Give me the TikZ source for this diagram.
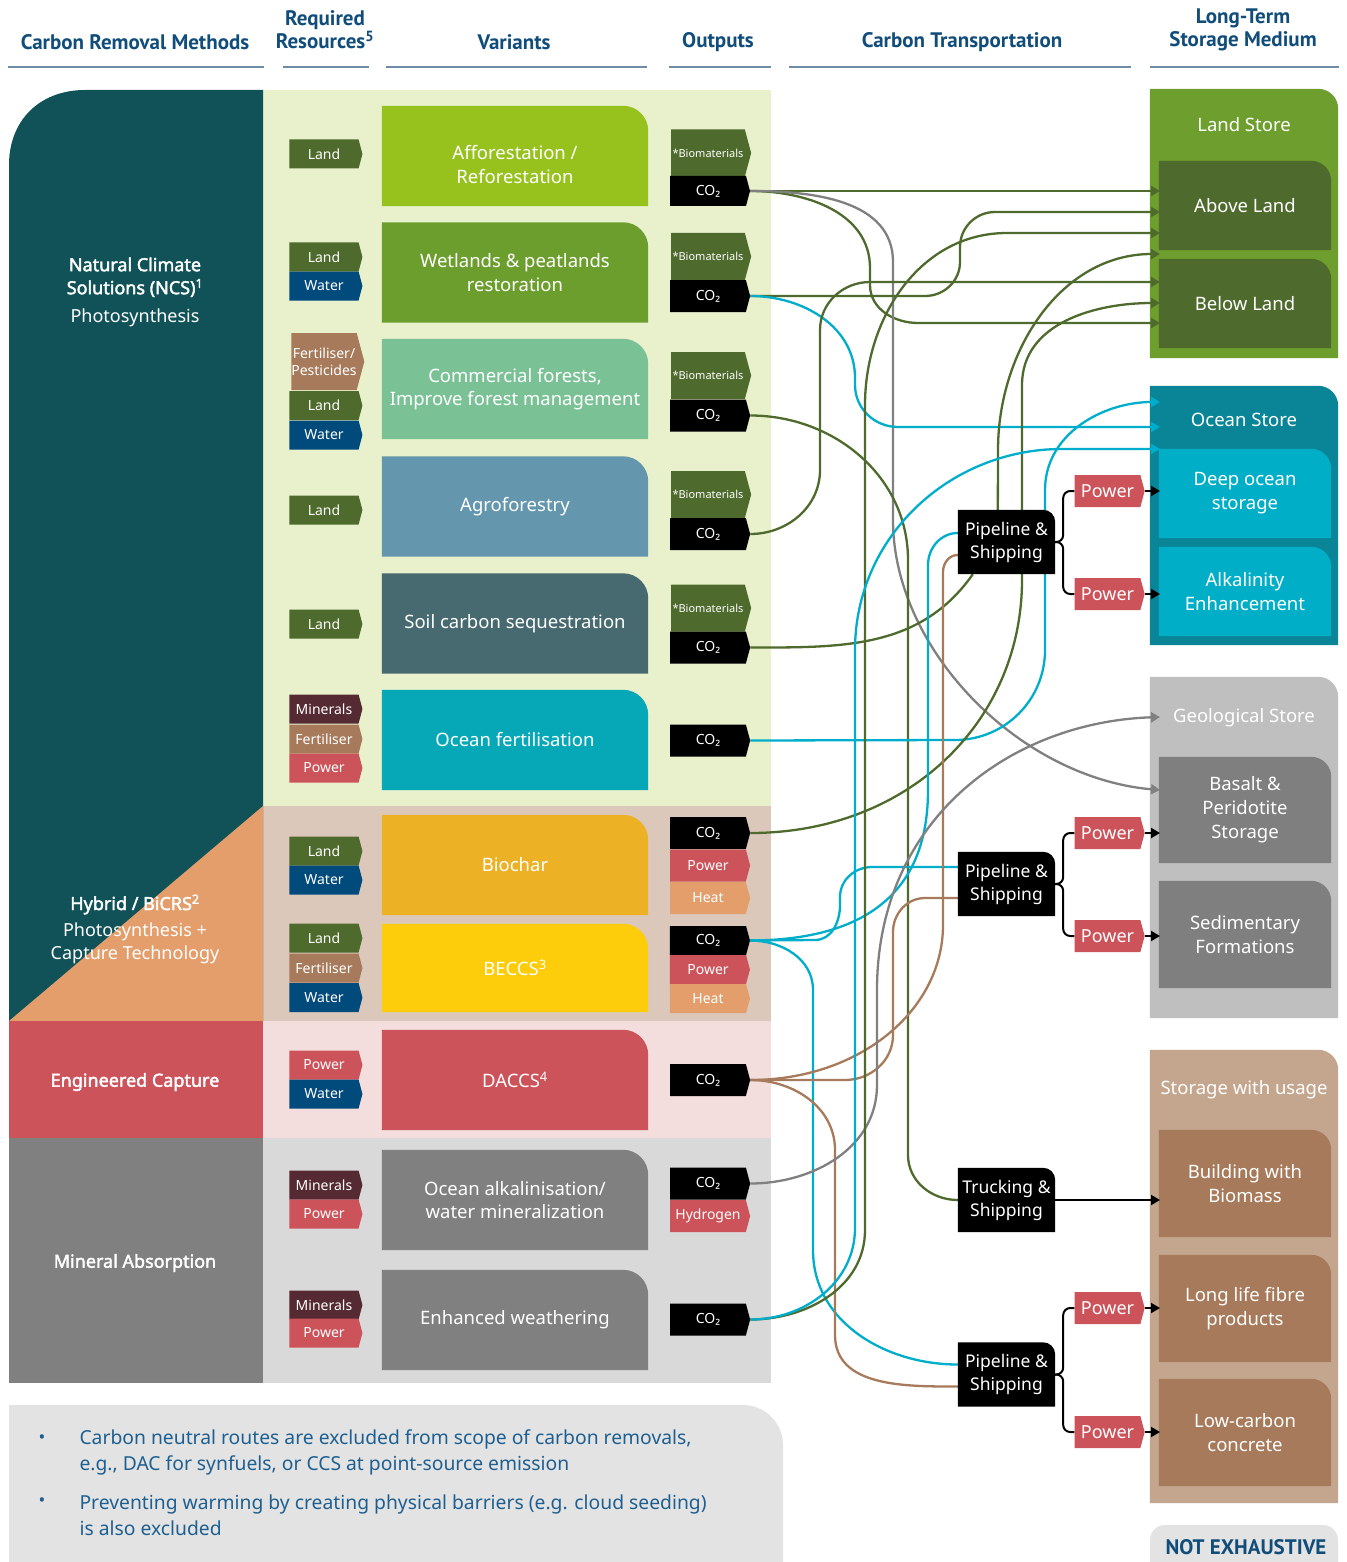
\documentclass[tikz,border=0pt]{standalone}
\usepackage{fontspec}
\setmainfont{Noto Sans}[BoldFont={Noto Sans},BoldFeatures={FakeBold=2.2}]
\newfontfamily\headfont{PT Sans}
\usetikzlibrary{arrows.meta,shapes.symbols}

\definecolor{headblue}{RGB}{17,77,122}
\definecolor{ruleblue}{RGB}{110,140,165}
\definecolor{ncsteal}{RGB}{16,82,87}
\definecolor{hybridorange}{RGB}{227,158,107}
\definecolor{engred}{RGB}{205,83,90}
\definecolor{mingray}{RGB}{128,128,128}
\definecolor{ncsband}{RGB}{232,240,204}
\definecolor{hybband}{RGB}{220,200,186}
\definecolor{engband}{RGB}{244,221,221}
\definecolor{minband}{RGB}{217,217,217}
\definecolor{affgreen}{RGB}{151,194,30}
\definecolor{wetgreen}{RGB}{108,158,46}
\definecolor{comgreen}{RGB}{122,193,149}
\definecolor{agroblue}{RGB}{100,151,174}
\definecolor{soilslate}{RGB}{70,106,112}
\definecolor{oceancyan}{RGB}{6,168,183}
\definecolor{biocharamber}{RGB}{237,177,37}
\definecolor{beccsyellow}{RGB}{253,204,10}
\definecolor{landtag}{RGB}{78,107,45}
\definecolor{watertag}{RGB}{0,74,124}
\definecolor{ferttag}{RGB}{166,122,91}
\definecolor{mintag}{RGB}{85,42,51}
\definecolor{heattag}{RGB}{227,158,107}
\definecolor{landstore}{RGB}{110,158,46}
\definecolor{oceanstore}{RGB}{10,133,151}
\definecolor{oceaninner}{RGB}{0,174,199}
\definecolor{geostore}{RGB}{191,191,191}
\definecolor{geoinner}{RGB}{127,127,127}
\definecolor{usestore}{RGB}{196,166,142}
\definecolor{useinner}{RGB}{166,122,90}
\definecolor{footgray}{RGB}{227,227,227}
\definecolor{foottext}{RGB}{30,95,145}
\definecolor{linegreen}{RGB}{78,107,45}
\definecolor{linecyan}{RGB}{0,174,203}
\definecolor{linebrown}{RGB}{166,122,90}
\definecolor{linegray}{RGB}{128,128,128}

\pgfdeclarelayer{background}
\pgfdeclarelayer{wires}
\pgfdeclarelayer{boxes}
\pgfsetlayers{background,wires,boxes,main}

% box with one rounded corner (top right), filled behind the node text
\newcommand\tabfill[4][background]{%
  \begin{pgfonlayer}{#1}
    \fill[#3] (#2.south west) -- (#2.north west) -- ([xshift=-#4]#2.north east)
      .. controls ([xshift=-0.45*#4]#2.north east) and ([yshift=-0.45*#4]#2.north east)
      .. ([yshift=-#4]#2.north east) -- (#2.south east) -- cycle;
  \end{pgfonlayer}}

\tikzset{
  wire/.style={line width=2.3pt, draw=#1},
  endtip/.style={-{Triangle[length=9pt,width=10pt]}},
  fork/.style={line width=2pt, draw=black, rounded corners=7pt},
  tag/.style={shape=signal, signal to=east, signal pointer angle=150, fill=#1,
    text=white, inner sep=0pt, align=center, minimum width=73pt, minimum height=29pt,
    font=\fontsize{14}{15}\selectfont},
  outtag/.style={tag=#1, minimum width=80pt, minimum height=32pt},
  biotag/.style={outtag=landtag, minimum height=47pt, font=\fontsize{11}{12}\selectfont},
  powertag/.style={tag=engred, minimum width=70pt, minimum height=32pt,
    font=\fontsize{18}{20}\selectfont},
  variant/.style={minimum width=266pt, minimum height=100pt, inner sep=0pt,
    text=white, align=center, font=\fontsize{18.5}{23.5}\selectfont},
  store/.style={minimum width=188pt, inner sep=0pt},
  storebox/.style={minimum width=172pt, inner sep=0pt, text=white, align=center,
    font=\fontsize{18.5}{24}\selectfont},
  storetitle/.style={text=white, font=\fontsize{18.5}{22}\selectfont},
  carrier/.style={minimum width=97pt, minimum height=64pt, inner sep=0pt,
    text=white, align=center, font=\fontsize{17.5}{23}\selectfont},
  heading/.style={text=headblue, align=center, font=\headfont\bfseries\fontsize{21}{23}\selectfont},
  headrule/.style={line width=2pt, draw=ruleblue},
  method/.style={text=white, align=center, font=\fontsize{18}{23}\selectfont},
  foot/.style={text=foottext, align=left, anchor=west, font=\fontsize{19.3}{26.5}\selectfont},
}

\begin{document}
\begin{tikzpicture}[x=1pt,y=-1pt]
\useasboundingbox (0,0) rectangle (1346,1562);
\begin{pgfonlayer}{background}
\fill[white] (0,0) rectangle (1346,1562);
\fill[ncsband] (263,90) rectangle (771,806);
\fill[hybband] (263,806) rectangle (771,1021);
\fill[engband] (263,1021) rectangle (771,1138);
\fill[minband] (263,1138) rectangle (771,1383);
\fill[ncsteal] (9,1021) -- (9,165) .. controls (9,120) and (40,90) .. (85,90) -- (263,90) -- (263,1021) -- cycle;
\fill[hybridorange] (263,806) -- (263,1021) -- (9,1021) -- cycle;
\fill[engred] (9,1021) rectangle (263,1138);
\fill[mingray] (9,1138) rectangle (263,1383);
\fill[footgray] (9,1562) -- (9,1405) -- (743,1405) .. controls (765,1405) and (783,1423) .. (783,1445) -- (783,1562) -- cycle;
\fill[footgray,rounded corners=15pt] (1150,1590) rectangle (1338,1525);
\end{pgfonlayer}

% headings
\node[heading] (hmeth) at (135,42) {Carbon Removal Methods};
\node[heading] (hres) at (325,30) {Required\\Resources\textsuperscript{5}};
\node[heading] (hvar) at (514,42) {Variants};
\node[heading] (hout) at (718,42) {Outputs};
\node[heading] (htrans) at (962,42) {Carbon Transportation};
\node[heading] (hstore) at (1243,30) {Long-Term\\Storage Medium};
\draw[headrule] (8,67) -- (264,67);
\draw[headrule] (283,67) -- (369,67);
\draw[headrule] (386,67) -- (647,67);
\draw[headrule] (669,67) -- (771,67);
\draw[headrule] (789,67) -- (1131,67);
\draw[headrule] (1150,67) -- (1339,67);

% methods
\node[method] (ncs) at (135,292) {\textbf{Natural Climate}\\\textbf{Solutions (NCS)\textsuperscript{1}}\\[5pt]Photosynthesis};
\node[method] (hyb) at (135,929) {\textbf{Hybrid / BiCRS\textsuperscript{2}}\\[3pt]Photosynthesis +\\Capture Technology};
\node[method] (eng) at (135,1082) {\textbf{Engineered Capture}};
\node[method] (mina) at (135,1263) {\textbf{Mineral Absorption}};

% variants
\node[variant] (aff) at (515,156) {\raisebox{-15pt}[0pt][0pt]{\begin{tabular}{@{}c@{}}Afforestation /\\Reforestation\end{tabular}}};
\node[variant] (wet) at (515,272.5) {Wetlands \& peatlands\\restoration};
\node[variant] (com) at (515,389) {Commercial forests,\\Improve forest management};
\node[variant] (agro) at (515,506.5) {Agroforestry};
\node[variant] (soil) at (515,623.5) {Soil carbon sequestration};
\node[variant] (ofert) at (515,740) {Ocean fertilisation};
\node[variant] (bchar) at (515,865) {Biochar};
\node[variant,minimum height=88pt] (beccs) at (515,968) {BECCS\textsuperscript{3}};
\node[variant] (daccs) at (515,1080) {DACCS\textsuperscript{4}};
\node[variant] (oalk) at (515,1200) {Ocean alkalinisation/\\water mineralization};
\node[variant] (ewea) at (515,1320) {Enhanced weathering};
\tabfill{aff}{affgreen}{25pt}
\tabfill{wet}{wetgreen}{25pt}
\tabfill{com}{comgreen}{25pt}
\tabfill{agro}{agroblue}{25pt}
\tabfill{soil}{soilslate}{25pt}
\tabfill{ofert}{oceancyan}{25pt}
\tabfill{bchar}{biocharamber}{25pt}
\tabfill{beccs}{beccsyellow}{25pt}
\tabfill{daccs}{engred}{25pt}
\tabfill{oalk}{mingray}{25pt}
\tabfill{ewea}{mingray}{25pt}

% required resources
\node[tag=landtag] (affland) at (324,154) {Land};
\node[tag=landtag] (wetland) at (324,257) {Land};
\node[tag=watertag] (wetwater) at (324,286) {Water};
\node[tag=ferttag,minimum height=57pt,font=\fontsize{14}{17}\selectfont] (comfert) at (324,361.5) {Fertiliser/\\Pesticides};
\node[tag=landtag] (comland) at (324,405.5) {Land};
\node[tag=watertag] (comwater) at (324,435) {Water};
\node[tag=landtag] (agroland) at (324,510) {Land};
\node[tag=landtag] (soilland) at (324,624) {Land};
\node[tag=mintag] (ofmin) at (324,709) {Minerals};
\node[tag=ferttag] (offert) at (324,739) {Fertiliser};
\node[tag=engred] (ofpow) at (324,768) {Power};
\node[tag=landtag] (bcland) at (324,851) {Land};
\node[tag=watertag] (bcwater) at (324,880) {Water};
\node[tag=landtag] (beland) at (324,938) {Land};
\node[tag=ferttag] (befert) at (324,968) {Fertiliser};
\node[tag=watertag] (bewater) at (324,997.5) {Water};
\node[tag=engred] (dpow) at (324,1065) {Power};
\node[tag=watertag] (dwater) at (324,1094) {Water};
\node[tag=mintag] (oamin) at (324,1185) {Minerals};
\node[tag=engred] (oapow) at (324,1214) {Power};
\node[tag=mintag] (ewmin) at (324,1305) {Minerals};
\node[tag=engred] (ewpow) at (324,1333) {Power};

% outputs
\node[biotag] (abio) at (708,153) {*Biomaterials};
\node[outtag=black,minimum height=30pt] (aco2) at (708,191) {CO₂};
\node[biotag] (wbio) at (708,256.5) {*Biomaterials};
\node[outtag=black] (wco2) at (708,296) {CO₂};
\node[biotag] (cbio) at (708,375.5) {*Biomaterials};
\node[outtag=black] (cco2) at (708,415.5) {CO₂};
\node[biotag] (gbio) at (708,494.5) {*Biomaterials};
\node[outtag=black] (gco2) at (708,534) {CO₂};
\node[biotag] (sbio) at (708,608) {*Biomaterials};
\node[outtag=black] (sco2) at (708,647.5) {CO₂};
\node[outtag=black] (oco2) at (708,740.5) {CO₂};
\node[outtag=black] (bcco2) at (708,833) {CO₂};
\node[outtag=engred] (bcpow) at (708,865.5) {Power};
\node[outtag=heattag] (bcheat) at (708,898) {Heat};
\node[outtag=black,minimum height=29pt] (beco2) at (708,940.5) {CO₂};
\node[outtag=engred,minimum height=29pt] (bepow) at (708,969.5) {Power};
\node[outtag=heattag,minimum height=29pt] (beheat) at (708,998.5) {Heat};
\node[outtag=black] (dco2) at (708,1080) {CO₂};
\node[outtag=black] (mco2) at (708,1183.5) {CO₂};
\node[outtag=engred] (mhyd) at (708,1216) {Hydrogen};
\node[outtag=black] (eco2) at (708,1319.5) {CO₂};

% storage
\node[store,minimum height=269pt] (land) at (1244,223.5) {};
\node[store,minimum height=259pt] (ocean) at (1244,515.5) {};
\node[store,minimum height=341pt] (geo) at (1244,847.5) {};
\node[store,minimum height=453pt] (usage) at (1244,1276.5) {};
\tabfill{land}{landstore}{20pt}
\tabfill{ocean}{oceanstore}{20pt}
\tabfill{geo}{geostore}{20pt}
\tabfill{usage}{usestore}{20pt}
\node[storetitle] (landt) at (1244,125) {Land Store};
\node[storetitle] (oceant) at (1244,420) {Ocean Store};
\node[storetitle] (geot) at (1244,718) {Geological Store};
\node[storetitle] (uset) at (1244,1090) {Storage with usage};
\node[storebox,minimum height=89pt] (above) at (1245,205.5) {Above Land};
\node[storebox,minimum height=89pt] (below) at (1245,303.5) {Below Land};
\node[storebox,minimum height=89pt] (deep) at (1245,493.5) {Deep ocean\\storage};
\node[storebox,minimum height=89pt] (alka) at (1245,591.5) {Alkalinity\\Enhancement};
\node[storebox,minimum height=106pt] (basalt) at (1245,810) {Basalt \&\\Peridotite\\Storage};
\node[storebox,minimum height=107pt] (sedi) at (1245,934.5) {Sedimentary\\Formations};
\node[storebox,minimum height=107pt] (build) at (1245,1183.5) {Building with\\Biomass};
\node[storebox,minimum height=107pt] (fibre) at (1245,1308.5) {Long life fibre\\products};
\node[storebox,minimum height=107pt] (concr) at (1245,1432.5) {Low-carbon\\concrete};
\tabfill{above}{landtag}{20pt}
\tabfill{below}{landtag}{20pt}
\tabfill{deep}{oceaninner}{20pt}
\tabfill{alka}{oceaninner}{20pt}
\tabfill{basalt}{geoinner}{20pt}
\tabfill{sedi}{geoinner}{20pt}
\tabfill{build}{useinner}{20pt}
\tabfill{fibre}{useinner}{20pt}
\tabfill{concr}{useinner}{20pt}

\foreach \y [count=\i] in {191,212,233,254,282,303,323}
  \coordinate (l\i) at (1160,\y);
\foreach \y [count=\i] in {402,427,449}
  \coordinate (o\i) at (1160,\y);
\coordinate (g1) at (1160,717);
\coordinate (g2) at (1160,790);
\coordinate (edge) at (1160,0);

% transport
\node[carrier] (pl1) at (1006.5,542) {Pipeline \&\\Shipping};
\node[carrier] (pl2) at (1006.5,884) {Pipeline \&\\Shipping};
\node[carrier] (trk) at (1006.5,1200) {Trucking \&\\Shipping};
\node[carrier] (pl3) at (1006.5,1374.5) {Pipeline \&\\Shipping};
\tabfill[boxes]{pl1}{black}{12pt}
\tabfill[boxes]{pl2}{black}{12pt}
\tabfill[boxes]{trk}{black}{12pt}
\tabfill[boxes]{pl3}{black}{12pt}
\node[powertag] (pwa1) at (1107.5,491) {Power};
\node[powertag] (pwb1) at (1107.5,594) {Power};
\node[powertag] (pwa2) at (1107.5,833) {Power};
\node[powertag] (pwb2) at (1107.5,936) {Power};
\node[powertag] (pwa3) at (1107.5,1308) {Power};
\node[powertag] (pwb3) at (1107.5,1432) {Power};
\foreach \p in {1,2,3} {
  \draw[fork] (pl\p.east) -- ++(8,0) |- (pwa\p.west);
  \draw[fork] (pl\p.east) -- ++(8,0) |- (pwb\p.west);
  \draw[fork,endtip] (pwa\p.east) -- (pwa\p.east -| edge);
  \draw[fork,endtip] (pwb\p.east) -- (pwb\p.east -| edge);
}
\draw[fork,endtip] (trk.east) -- (trk.east -| edge);

\begin{pgfonlayer}{wires}
\draw[wire=linegreen,endtip] (aco2.east) -- (l1);
\draw[wire=linegreen,endtip] (aco2.east) to[out=0,in=90] (870,268) -- (870,285) to[out=-90,in=180] (918,323) -- (l7);
\draw[wire=linegray,endtip] (aco2.east) to[out=0,in=90] (893,262) -- (893,520) .. controls (893,650) and (1020,778) .. (g2);
\draw[wire=linegreen,endtip] (wco2.east) -- (925,296) to[out=0,in=-90] (960,262) -- (960,247) to[out=90,in=180] (995,212) -- (l2);
\draw[wire=linecyan,endtip] (wco2.east) to[out=0,in=90] (855,378) -- (855,385) to[out=-90,in=180] (898,427) -- (o2);
\draw[wire=linegreen] (cco2.east) to[out=0,in=90] (908,560) -- (908,1155) to[out=-90,in=180] (trk.west);
\draw[wire=linegreen,endtip] (gco2.east) to[out=0,in=-90] (820,470) -- (820,330) to[out=90,in=180] (870,282) -- (l5);
\draw[wire=linegreen] (sco2.east) to[out=0,in=235] ([xshift=15pt]pl1.south west);
\draw[wire=linegreen,endtip] ([xshift=40pt]pl1.north west) -- (998,450) to[out=90,in=180] (l4);
\draw[wire=linecyan,endtip] (oco2.east) -- (955,740) to[out=0,in=-90] (1045,650) -- (1045,490) to[out=90,in=180] (o1);
\draw[wire=linegreen,endtip] (bcco2.east) .. controls (910,833) and (1022,720) .. (1022,580) -- (1022,385) to[out=90,in=180] (l6);
\draw[wire=linecyan] (beco2.east) .. controls (880,940) and (928,880) .. (928,790) -- (928,565) to[out=90,in=180] ([yshift=9pt]pl1.west);
\draw[wire=linecyan] (beco2.east) -- (815,940) to[out=0,in=-90] (840,905) -- (840,897) to[out=90,in=180] (872,867) -- ([yshift=17pt]pl2.west);
\draw[wire=linecyan] (beco2.east) to[out=0,in=90] (813,990) -- (813,1250) to[out=-90,in=180] ([yshift=10pt]pl3.west);
\draw[wire=linebrown] (dco2.east) -- (845,1080) to[out=0,in=-90] (893,1035) -- (893,932) to[out=90,in=180] (925,898) -- ([yshift=-14pt]pl2.west);
\draw[wire=linebrown] (dco2.east) .. controls (860,1080) and (943,1010) .. (943,925) -- (943,572) to[out=90,in=180] ([yshift=-13pt]pl1.west);
\draw[wire=linebrown] (dco2.east) to[out=0,in=90] (835,1150) -- (835,1335) to[out=-90,in=180] ([yshift=-12pt]pl3.west);
\draw[wire=linegray,endtip] (mco2.east) to[out=0,in=-90] (877,1085) -- (877,990) .. controls (877,820) and (1010,722) .. (g1);
\draw[wire=linegreen,endtip] (eco2.east) to[out=0,in=-90] (865,1230) -- (865,405) to[out=90,in=180] (1007,233) -- (l3);
\draw[wire=linecyan,endtip] (eco2.east) to[out=0,in=-90] (855,1228) -- (855,650) to[out=90,in=180] (1062,449) -- (o3);
\end{pgfonlayer}

% notes
\node[foot] (note1) at (76,1452.5) {Carbon neutral routes are excluded from scope of carbon removals,\\e.g., DAC for synfuels, or CCS at point-source emission};
\node[foot] (note2) at (76,1515) {Preventing warming by creating physical barriers (e.g. cloud seeding)\\is also excluded};
\node[text=foottext,font=\fontsize{18}{20}\selectfont] (dot1) at (42,1439) {•};
\node[text=foottext,font=\fontsize{18}{20}\selectfont] (dot2) at (42,1502) {•};
\node[heading] (noex) at (1246,1547) {NOT EXHAUSTIVE};
\end{tikzpicture}
\end{document}
